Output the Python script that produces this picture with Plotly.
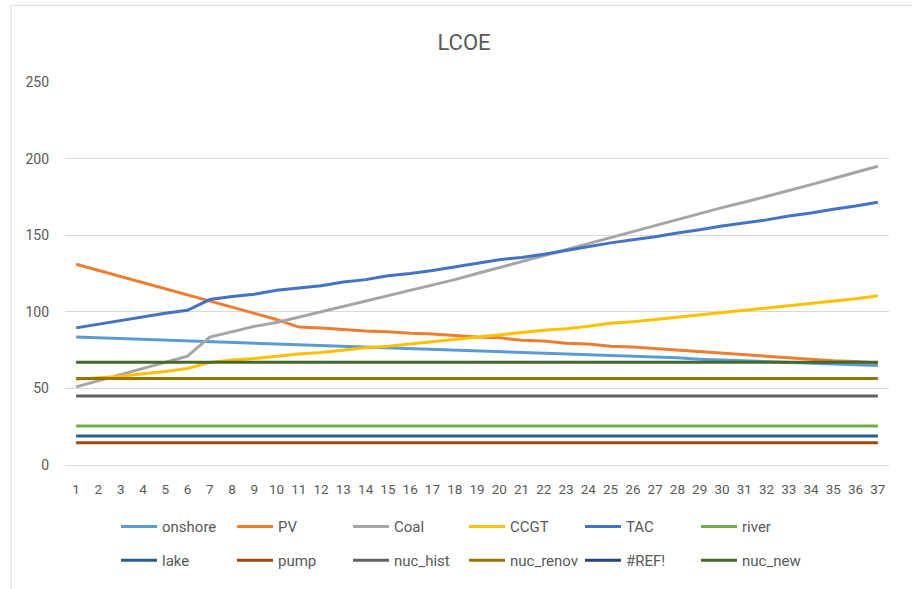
import plotly.graph_objects as go

# x categories (years index)
years = list(range(1, 38))

onshore = [83.5, 83, 82.5, 82, 81.5, 81, 80.5, 80, 79.5, 79, 78.5, 78, 77.5, 77, 76.5, 76, 75.5, 75, 74.5,
           74, 73.5, 73, 72.5, 72, 71.5, 71, 70.5, 70, 69, 68.5, 68, 67.5, 67, 66.5, 66, 65.5, 65]
pv = [131, 127, 123, 119, 115, 111, 107, 103, 99, 95, 90, 89.5, 88.5, 87.5, 87, 86, 85.5, 84.5, 83.5,
      83, 81.5, 81, 79.5, 79, 77.5, 77, 76, 75, 74, 73, 72, 71, 70, 69, 68, 67.5, 66.5]
coal = [51, 55, 59, 63, 67, 71, 83.5, 87, 90.5, 93, 96.5, 100, 103.5, 107, 110.5, 114, 117.5, 121, 125,
        129, 132.5, 136.5, 140.5, 144.5, 148.5, 152.5, 156.5, 160, 164, 168, 171.5, 175.5, 179.5, 183, 187, 191, 195]
ccgt = [56, 57, 58, 59.5, 61, 63, 67, 68.5, 69.5, 71, 72.5, 73.5, 75, 76.5, 77.5, 79, 80.5, 82, 83.5,
        85, 86.5, 88, 89, 90.5, 92.5, 93.5, 95, 96.5, 98, 99.5, 101, 102.5, 104, 105.5, 107, 108.5, 110.5]
tac = [89.5, 92, 94.5, 96.5, 99, 101, 108, 110, 111.5, 114, 115.5, 117, 119.5, 121, 123.5, 125, 127, 129.5, 131.5,
       134, 135.5, 137.5, 140, 142.5, 145, 147, 149, 151.5, 153.5, 156, 158, 160, 162.5, 164.5, 167, 169, 171.5]
river = [25.5] * 37
lake = [19] * 37
pump = [14.5] * 37
nuc_hist = [45] * 37
nuc_renov = [56.5] * 37
ref_err = [None] * 37   # broken reference in the source sheet, no values
nuc_new = [67] * 37

series = [
    ("onshore", onshore, "#5B9BD5"),
    ("PV", pv, "#ED7D31"),
    ("Coal", coal, "#A5A5A5"),
    ("CCGT", ccgt, "#FFC000"),
    ("TAC", tac, "#4472C4"),
    ("river", river, "#70AD47"),
    ("lake", lake, "#255E91"),
    ("pump", pump, "#9E480E"),
    ("nuc_hist", nuc_hist, "#636363"),
    ("nuc_renov", nuc_renov, "#997300"),
    ("#REF!", ref_err, "#264478"),
    ("nuc_new", nuc_new, "#43682B"),
]

font_family = "Roboto, Lato, sans-serif"
grey_text = "#595959"

fig = go.Figure()
for i, (name, vals, color) in enumerate(series):
    fig.add_trace(go.Scatter(
        x=years, y=vals, name=name, mode="lines",
        line=dict(color=color, width=3),
        legend="legend" if i < 6 else "legend2",
    ))

# one legend per row, 6 entries each
legend_style = dict(
    orientation="h", x=(116 - 65) / 824, xanchor="left", yanchor="middle",
    entrywidth=65, entrywidthmode="pixels",
    font=dict(family=font_family, size=15, color=grey_text),
    itemwidth=36, tracegroupgap=0, bgcolor="rgba(0,0,0,0)",
)

fig.update_layout(
    width=912, height=589,
    paper_bgcolor="white", plot_bgcolor="white",
    margin=dict(l=65, r=23, t=82, b=122),
    font=dict(family=font_family, size=14, color=grey_text),
    title=dict(text="LCOE", x=464 / 912, xanchor="center", y=1 - 42 / 589, yanchor="middle",
               font=dict(family=font_family, size=22, color=grey_text)),
    legend=dict(legend_style, y=-(529 - 467) / 385),
    legend2=dict(legend_style, y=-(563 - 467) / 385),
    showlegend=True,
)

fig.update_xaxes(
    range=[0.5, 37.5], tickmode="linear", tick0=1, dtick=1,
    showgrid=False, showline=True, linecolor="#d9d9d9", linewidth=1,
    ticks="", ticklabelstandoff=12, tickfont=dict(size=13.5, color=grey_text),
    zeroline=False,
)
fig.update_yaxes(
    range=[0, 250], dtick=50, showgrid=True, gridcolor="#d9d9d9", gridwidth=1,
    showline=False, zeroline=False, ticks="", ticklabelstandoff=15,
    tickfont=dict(size=14, color=grey_text),
)

# chart area frame
fig.add_shape(type="rect", xref="paper", yref="paper",
              x0=(11 - 65) / 824, x1=1.2, y0=-0.5, y1=1 + (82 - 5) / 385,
              line=dict(color="#d9d9d9", width=1), layer="below")

fig.write_html("out.html", config={"displayModeBar": False},
               post_script="document.body.style.margin='0';")
